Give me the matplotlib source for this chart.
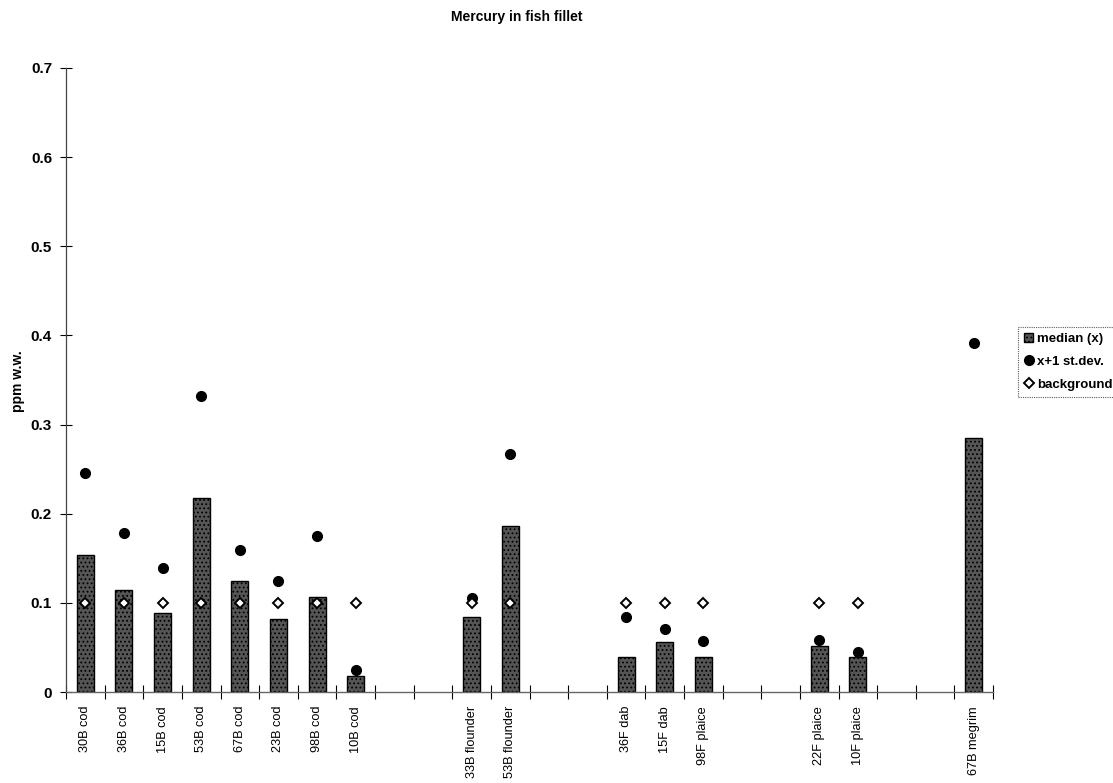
import matplotlib
matplotlib.use("Agg")
import matplotlib.pyplot as plt
import numpy as np
from matplotlib.lines import Line2D
from matplotlib.patches import Patch

categories = ["30B cod", "36B cod", "15B cod", "53B cod", "67B cod", "23B cod", "98B cod", "10B cod",
              "", "",
              "33B flounder", "53B flounder",
              "", "",
              "36F dab", "15F dab", "98F plaice",
              "", "",
              "22F plaice", "10F plaice",
              "", "",
              "67B megrim"]
median = [0.154, 0.114, 0.089, 0.218, 0.124, 0.082, 0.107, 0.018,
          None, None,
          0.084, 0.186,
          None, None,
          0.039, 0.056, 0.039,
          None, None,
          0.052, 0.039,
          None, None,
          0.285]
plus_sd = [0.246, 0.178, 0.139, 0.332, 0.159, 0.124, 0.175, 0.025,
           None, None,
           0.106, 0.267,
           None, None,
           0.084, 0.071, 0.057,
           None, None,
           0.058, 0.045,
           None, None,
           0.391]
background = [0.1, 0.1, 0.1, 0.1, 0.1, 0.1, 0.1, 0.1,
              None, None,
              0.1, 0.1,
              None, None,
              0.1, 0.1, 0.1,
              None, None,
              0.1, 0.1,
              None, None,
              None]

plt.rcParams['font.family'] = ['Liberation Sans', 'DejaVu Sans']
plt.rcParams['hatch.color'] = '#9a9a9a'
plt.rcParams['hatch.linewidth'] = 0.8

fig = plt.figure(figsize=(11.13, 7.83), dpi=100)
ax = fig.add_axes([0.0593, 0.1162, 0.8329, 0.7970])

x = np.arange(len(categories))
def arr(v):
    return np.array([np.nan if a is None else a for a in v], dtype=float)

m = arr(median)
s = arr(plus_sd)
b = arr(background)

mask = ~np.isnan(m)
ax.bar(x[mask], m[mask], width=0.44, color='#555555', edgecolor='black', linewidth=1.0,
       hatch='....', zorder=2)
ax.plot(x, s, linestyle='none', marker='o', markersize=7, color='black', zorder=3)
ax.plot(x, b, linestyle='none', marker='D', markersize=5.5, markerfacecolor='white',
        markeredgecolor='black', markeredgewidth=1.4, zorder=4)

ax.set_xlim(-0.5, len(categories) - 0.5)
ax.set_ylim(0, 0.7)
ax.set_yticks(np.arange(0, 0.71, 0.1))
ax.set_yticklabels(['0'] + [f'{v:.1f}' for v in np.arange(0.1, 0.71, 0.1)],
                   fontsize=11, fontweight='bold')
ax.tick_params(axis='y', direction='inout', length=8, width=0.8, pad=6)

ax.set_xticks(np.arange(-0.5, len(categories), 1.0))
ax.set_xticklabels([])
ax.tick_params(axis='x', which='major', direction='inout', length=10, width=0.8)
ax.set_xticks(x, minor=True)
ax.set_xticklabels(categories, minor=True, rotation=90, fontsize=9.2,
                   family=['Liberation Sans Narrow', 'Liberation Sans', 'DejaVu Sans'],
                   stretch='condensed')
ax.tick_params(axis='x', which='minor', length=0, pad=10)

for sp in ['top', 'right']:
    ax.spines[sp].set_visible(False)
ax.spines['left'].set_color('#444444')
ax.spines['bottom'].set_color('#666666')
ax.spines['left'].set_linewidth(0.9)
ax.spines['bottom'].set_linewidth(1.0)

ax.set_ylabel('ppm w.w.', fontsize=10, fontweight='bold')
ax.yaxis.set_label_coords(-0.044, 0.498)
fig.text(517 / 1113, 1 - 17 / 783, 'Mercury in fish fillet', fontsize=10, fontweight='bold',
         ha='center', va='center')

handles = [Patch(facecolor='#555555', edgecolor='black', hatch='....', label='median (x)'),
           Line2D([], [], linestyle='none', marker='o', markersize=7, color='black', label='x+1 st.dev.'),
           Line2D([], [], linestyle='none', marker='D', markersize=5.5, markerfacecolor='white',
                  markeredgecolor='black', markeredgewidth=1.4, label='background')]
leg = ax.legend(handles=handles, loc='upper left', bbox_to_anchor=(1.027, 0.585),
                frameon=True, fancybox=False, prop={'size': 9.5, 'weight': 'bold'},
                handlelength=0.7, handletextpad=0.3, borderpad=0.45, labelspacing=0.8,
                borderaxespad=0)
leg.get_frame().set_edgecolor('#333333')
leg.get_frame().set_linewidth(0.8)
leg.get_frame().set_linestyle((0, (1, 1)))

fig.savefig('out.png', dpi=100)
